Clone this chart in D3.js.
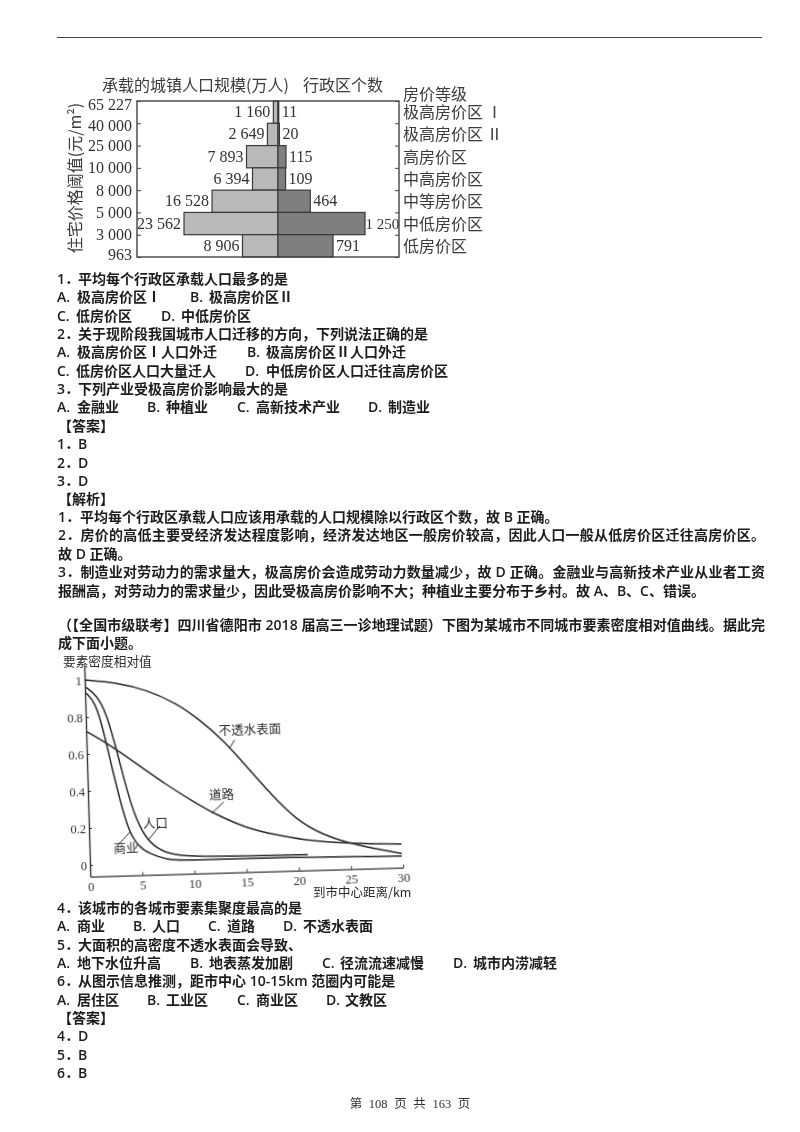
<!DOCTYPE html>
<html>
<head>
<meta charset="utf-8">
<script src="https://cdn.jsdelivr.net/npm/d3@7/dist/d3.min.js"></script>
<style>
html, body { margin: 0; padding: 0; background: #fff; }
svg { display: block; }
</style>
</head>
<body>
<svg id="page" width="800" height="1132"></svg>
<script>
// pyramid chart
var priceTicks = ["65 227", "40 000", "25 000", "10 000", "8 000", "5 000", "3 000", "963"];
var priceLevels = ["极高房价区 Ⅰ", "极高房价区 Ⅱ", "高房价区", "中高房价区", "中等房价区", "中低房价区", "低房价区"];
var population = [1160, 2649, 7893, 6394, 16528, 23562, 8906];
var populationLabels = ["1 160", "2 649", "7 893", "6 394", "16 528", "23 562", "8 906"];
var districts = [11, 20, 115, 109, 464, 1250, 791];
var districtLabels = ["11", "20", "115", "109", "464", "1 250", "791"];

// curve chart, km from centre and relative density
var imperviousKm = [0, 3.06, 5.9, 8.75, 10.9, 13.1, 15.3, 17.45, 19.9, 22.45, 24.7, 27.2, 29.9];
var imperviousVal = [1.0, 0.981, 0.937, 0.86, 0.767, 0.655, 0.507, 0.359, 0.21, 0.126, 0.081, 0.046, 0.014];
var roadKm = [0.1, 2.25, 4.75, 7.57, 10.1, 11.97, 15.1, 17.97, 20.5, 23.7, 26.9, 29.9];
var roadVal = [0.72, 0.645, 0.54, 0.42, 0.326, 0.26, 0.174, 0.133, 0.102, 0.082, 0.07, 0.065];
var peopleKm = [0.1, 1.1, 2, 2.87, 3.58, 4.44, 5.35, 6.43, 8, 10.6, 15.3, 20.9];
var peopleVal = [0.96, 0.918, 0.817, 0.617, 0.436, 0.254, 0.144, 0.079, 0.04, 0.028, 0.024, 0.023];
var commerceKm = [0.1, 0.93, 1.65, 2.35, 3.05, 3.77, 4.68, 5.78, 7.36, 8.95, 12.15, 18.5, 29.9];
var commerceVal = [0.93, 0.882, 0.728, 0.528, 0.347, 0.183, 0.092, 0.05, 0.018, 0.011, 0.011, 0.011, 0.0];
var kmTicks = [0, 5, 10, 15, 20, 25, 30];
var densityTicks = [0, 0.2, 0.4, 0.6, 0.8, 1];
var densityTickLabels = ["0", "0.2", "0.4", "0.6", "0.8", "1"];
var curveNames = ["不透水表面", "道路", "人口", "商业"];
var curveNameKm = [15.7, 12.8, 6.37, 3.5];
var curveNameVal = [0.705, 0.358, 0.211, 0.085];
var leaderKm = [[13.7, 14.2], [11.8, 13], [5.65, 6.8], [2.77, 3.93]];
var leaderVal = [[0.61, 0.653], [0.26, 0.32], [0.126, 0.2], [0.104, 0.173]];

// page text
var block1 = [
    ["1．", "平均每个行政区承载人口最多的是"],
    ["A.", "极高房价区Ⅰ", "B.", "极高房价区Ⅱ"],
    ["C.", "低房价区", "D.", "中低房价区"],
    ["2．", "关于现阶段我国城市人口迁移的方向，下列说法正确的是"],
    ["A.", "极高房价区Ⅰ人口外迁", "B.", "极高房价区Ⅱ人口外迁"],
    ["C.", "低房价区人口大量迁人", "D.", "中低房价区人口迁往高房价区"],
    ["3．", "下列产业受极高房价影响最大的是"],
    ["A.", "金融业", "B.", "种植业", "C.", "高新技术产业", "D.", "制造业"],
    ["", "【答案】"],
    ["1．", "B"],
    ["2．", "D"],
    ["3．", "D"],
    ["", "【解析】"]
];
var block1X = [
    [57, 78], [57, 77, 190, 209], [57, 76, 161, 181], [57, 78], [57, 77, 247, 266], [57, 76, 245, 266],
    [57, 78], [57, 77, 147, 166, 237, 256, 368, 388], [57, 58], [57, 78], [57, 78], [57, 78], [57, 58]
];
var analysis = [
    "1．平均每个行政区承载人口应该用承载的人口规模除以行政区个数，故 B 正确。",
    "2．房价的高低主要受经济发达程度影响，经济发达地区一般房价较高，因此人口一般从低房价区迁往高房价区。",
    "故 D 正确。",
    "3．制造业对劳动力的需求量大，极高房价会造成劳动力数量减少，故 D 正确。金融业与高新技术产业从业者工资",
    "报酬高，对劳动力的需求量少，因此受极高房价影响不大；种植业主要分布于乡村。故 A、B、C、错误。"
];
var intro = [
    "（【全国市级联考】四川省德阳市 2018 届高三一诊地理试题）下图为某城市不同城市要素密度相对值曲线。据此完",
    "成下面小题。"
];
var block2 = [
    ["4．", "该城市的各城市要素集聚度最高的是"],
    ["A.", "商业", "B.", "人口", "C.", "道路", "D.", "不透水表面"],
    ["5．", "大面积的高密度不透水表面会导致、"],
    ["A.", "地下水位升高", "B.", "地表蒸发加剧", "C.", "径流流速减慢", "D.", "城市内涝减轻"],
    ["6．", "从图示信息推测，距市中心 10-15km 范圈内可能是"],
    ["A.", "居住区", "B.", "工业区", "C.", "商业区", "D.", "文教区"],
    ["", "【答案】"],
    ["4．", "D"],
    ["5．", "B"],
    ["6．", "B"]
];
var block2X = [
    [57, 78], [57, 77, 133, 152, 208, 227, 283, 303], [57, 78], [57, 77, 190, 209, 322, 340, 453, 473],
    [57, 78], [57, 77, 147, 166, 237, 256, 326, 345], [57, 58], [57, 78], [57, 78], [57, 78]
];

var cjk = '"Noto Sans CJK SC", sans-serif';
var bodyFont = '"Open Sans", "Noto Sans CJK SC", sans-serif';
var serif = '"Liberation Serif", "Noto Sans CJK SC", serif';
var ink = "#1c1c1c";

var svg = d3.select("#page");
var defs = svg.append("defs");
defs.append("filter").attr("id", "soft").append("feGaussianBlur").attr("stdDeviation", 0.35);
defs.append("filter").attr("id", "softer").append("feGaussianBlur").attr("stdDeviation", 0.55);

// header rule and footer
svg.append("line").attr("x1", 57).attr("x2", 762).attr("y1", 37.5).attr("y2", 37.5)
    .attr("stroke", "#444").attr("stroke-width", 1);
svg.append("text").attr("x", 410).attr("y", 1108).attr("text-anchor", "middle")
    .attr("font-family", serif).attr("font-size", 12.5).attr("word-spacing", 3.5).attr("fill", "#333").attr("filter", "url(#soft)")
    .text("第 108 页 共 163 页");

var textLayer = svg.append("g").attr("fill", ink).attr("filter", "url(#soft)")
    .attr("font-family", bodyFont).attr("font-size", 14).attr("font-weight", 600);

function drawBlock(lines, xs, top, step) {
    lines.forEach(function(line, i) {
        textLayer.selectAll(null).data(line).enter().append("text")
            .attr("x", function(d, j) { return xs[i][j]; })
            .attr("y", top + i * step)
            .text(function(d) { return d; });
    });
}
drawBlock(block1, block1X, 284, 18.35);
drawBlock(block2, block2X, 913, 18.35);

function drawParagraph(lines, width, top, step, full) {
    textLayer.selectAll(null).data(lines).enter().append("text")
        .attr("x", 58)
        .attr("y", function(d, i) { return top + i * step; })
        .attr("textLength", function(d, i) { return full.indexOf(i) >= 0 ? width : null; })
        .attr("lengthAdjust", "spacing")
        .text(function(d) { return d; });
}
drawParagraph(analysis, 707, 522, 18.4, [1, 3]);
drawParagraph(intro, 707, 630, 18.4, [0]);

// ---- pyramid ----
var pyramid = svg.append("g").attr("filter", "url(#softer)");
var axisY = d3.scalePoint().domain(priceTicks).range([101, 257]);
var popX = d3.scaleLinear().domain([0, 23562]).range([278, 184]);
var countX = d3.scaleLinear().domain([0, 1250]).range([278, 365]);
var frameLeft = 137, frameRight = 399;
// end labels sit inside the frame's height
var tickNudge = [3, 2, 0, 0, 0, 0, 0, -3];

var bandTop = function(i) { return axisY(priceTicks[i]); };
var bandBottom = function(i) { return axisY(priceTicks[i + 1]); };

pyramid.selectAll(".pop").data(population).enter().append("rect")
    .attr("class", "pop")
    .attr("x", function(d) { return popX(d); })
    .attr("y", function(d, i) { return bandTop(i); })
    .attr("width", function(d) { return popX(0) - popX(d); })
    .attr("height", function(d, i) { return bandBottom(i) - bandTop(i); })
    .attr("fill", "#b9b9b9").attr("stroke", "#3a3a3a").attr("stroke-width", 1.2);

pyramid.selectAll(".count").data(districts).enter().append("rect")
    .attr("class", "count")
    .attr("x", countX(0))
    .attr("y", function(d, i) { return bandTop(i); })
    .attr("width", function(d) { return countX(d) - countX(0); })
    .attr("height", function(d, i) { return bandBottom(i) - bandTop(i); })
    .attr("fill", "#7f7f7f").attr("stroke", "#3a3a3a").attr("stroke-width", 1.2);

pyramid.append("rect")
    .attr("x", frameLeft).attr("y", axisY.range()[0])
    .attr("width", frameRight - frameLeft).attr("height", axisY.range()[1] - axisY.range()[0])
    .attr("fill", "none").attr("stroke", "#444").attr("stroke-width", 1.4);

var leftAxis = pyramid.append("g").attr("transform", "translate(" + frameLeft + ",0)")
    .call(d3.axisLeft(axisY).tickSizeInner(-4).tickSizeOuter(0).tickPadding(5));
leftAxis.select(".domain").remove();
leftAxis.selectAll("line").attr("stroke", "#444");
leftAxis.selectAll("text").attr("font-family", serif).attr("font-size", 16).attr("fill", "#333")
    .attr("y", function(d, i) { return tickNudge[i]; });

var rightAxis = pyramid.append("g").attr("transform", "translate(" + frameRight + ",0)")
    .call(d3.axisRight(axisY).tickSizeInner(-4).tickSizeOuter(0).tickFormat(""));
rightAxis.select(".domain").remove();
rightAxis.selectAll("line").attr("stroke", "#444");

var bandMid = function(i) { return (bandTop(i) + bandBottom(i)) / 2; };

pyramid.selectAll(".popLabel").data(populationLabels).enter().append("text")
    .attr("x", function(d, i) { return popX(population[i]) - 3; })
    .attr("y", function(d, i) { return bandMid(i) + 5; })
    .attr("text-anchor", "end")
    .attr("font-family", serif).attr("font-size", 16).attr("fill", "#333")
    .text(function(d) { return d; });

// 1 250 only just fits between its bar and the frame
pyramid.selectAll(".countLabel").data(districtLabels).enter().append("text")
    .attr("x", function(d, i) { return countX(districts[i]) + (districts[i] > 1000 ? 0.5 : 3); })
    .attr("y", function(d, i) { return bandMid(i) + 5; })
    .attr("font-family", serif).attr("font-size", function(d, i) { return districts[i] > 1000 ? 15 : 16; }).attr("fill", "#333")
    .text(function(d) { return d; });

pyramid.selectAll(".level").data(priceLevels).enter().append("text")
    .attr("x", 403)
    .attr("y", function(d, i) { return bandMid(i) + 6; })
    .attr("font-family", cjk).attr("font-size", 16).attr("fill", "#3a3a3a")
    .text(function(d) { return d; });

var pyramidTitles = ["承载的城镇人口规模(万人)", "行政区个数", "房价等级"];
var pyramidTitleX = [102, 303, 403];
var pyramidTitleY = [91, 91, 100];
pyramid.selectAll(".title").data(pyramidTitles).enter().append("text")
    .attr("x", function(d, i) { return pyramidTitleX[i]; })
    .attr("y", function(d, i) { return pyramidTitleY[i]; })
    .attr("font-family", cjk).attr("font-size", 16).attr("fill", "#3a3a3a")
    .text(function(d) { return d; });

pyramid.append("text")
    .attr("transform", "translate(81,178) rotate(-90)")
    .attr("text-anchor", "middle")
    .attr("font-family", cjk).attr("font-size", 16).attr("fill", "#3a3a3a")
    .text("住宅价格阈值(元/m²)");

// ---- curves ----
// the scan sits a little crooked, so the whole plot is turned with it
var plot = svg.append("g").attr("filter", "url(#softer)")
    .attr("transform", "translate(90,865) rotate(-1.65)");
var kmX = d3.scaleLinear().domain([0, 30]).range([0, 313]);
var densityY = d3.scaleLinear().domain([0, 1]).range([0, -185]);
var axisFloor = -0.063;

var xAxis = plot.append("g").attr("transform", "translate(0," + densityY(axisFloor) + ")")
    .call(d3.axisBottom(kmX).tickValues(kmTicks).tickSizeInner(-3).tickSizeOuter(0).tickPadding(5));
xAxis.select(".domain").attr("stroke", "#333").attr("stroke-width", 1.4);
xAxis.selectAll("line").attr("stroke", "#333");
xAxis.selectAll("text").attr("font-family", serif).attr("font-size", 12.5).attr("fill", "#333");

var yAxis = plot.append("g")
    .call(d3.axisLeft(d3.scaleLinear().domain([axisFloor, 1.08]).range([densityY(axisFloor), densityY(1.08)]))
        .tickValues(densityTicks).tickFormat(function(d, i) { return densityTickLabels[i]; })
        .tickSizeInner(-3).tickSizeOuter(0).tickPadding(3));
yAxis.select(".domain").attr("stroke", "#333").attr("stroke-width", 1.4);
yAxis.selectAll("line").attr("stroke", "#333");
yAxis.selectAll("text").attr("font-family", serif).attr("font-size", 12.5).attr("fill", "#333");

var curve = d3.line()
    .x(function(d) { return kmX(d[0]); })
    .y(function(d) { return densityY(d[1]); })
    .curve(d3.curveBasis);

[[imperviousKm, imperviousVal], [roadKm, roadVal], [peopleKm, peopleVal], [commerceKm, commerceVal]].forEach(function(s) {
    plot.append("path")
        .attr("d", curve(d3.zip(s[0], s[1])))
        .attr("fill", "none").attr("stroke", "#2a2a2a").attr("stroke-width", 1.5);
});

plot.selectAll(".leader").data(leaderKm).enter().append("line")
    .attr("class", "leader")
    .attr("x1", function(d) { return kmX(d[0]); })
    .attr("x2", function(d) { return kmX(d[1]); })
    .attr("y1", function(d, i) { return densityY(leaderVal[i][0]); })
    .attr("y2", function(d, i) { return densityY(leaderVal[i][1]); })
    .attr("stroke", "#2a2a2a").attr("stroke-width", 1);

plot.selectAll(".curveName").data(curveNames).enter().append("text")
    .attr("x", function(d, i) { return kmX(curveNameKm[i]); })
    .attr("y", function(d, i) { return densityY(curveNameVal[i]) + 4.5; })
    .attr("text-anchor", "middle")
    .attr("font-family", cjk).attr("font-size", 12.5).attr("fill", "#2a2a2a")
    .text(function(d) { return d; });

svg.append("text").attr("x", 63).attr("y", 666).attr("filter", "url(#softer)")
    .attr("font-family", cjk).attr("font-size", 12.7).attr("fill", "#2a2a2a")
    .text("要素密度相对值");
svg.append("text").attr("x", 313).attr("y", 897).attr("filter", "url(#softer)")
    .attr("font-family", cjk).attr("font-size", 12.5).attr("fill", "#2a2a2a")
    .text("到市中心距离/km");
</script>
</body>
</html>
